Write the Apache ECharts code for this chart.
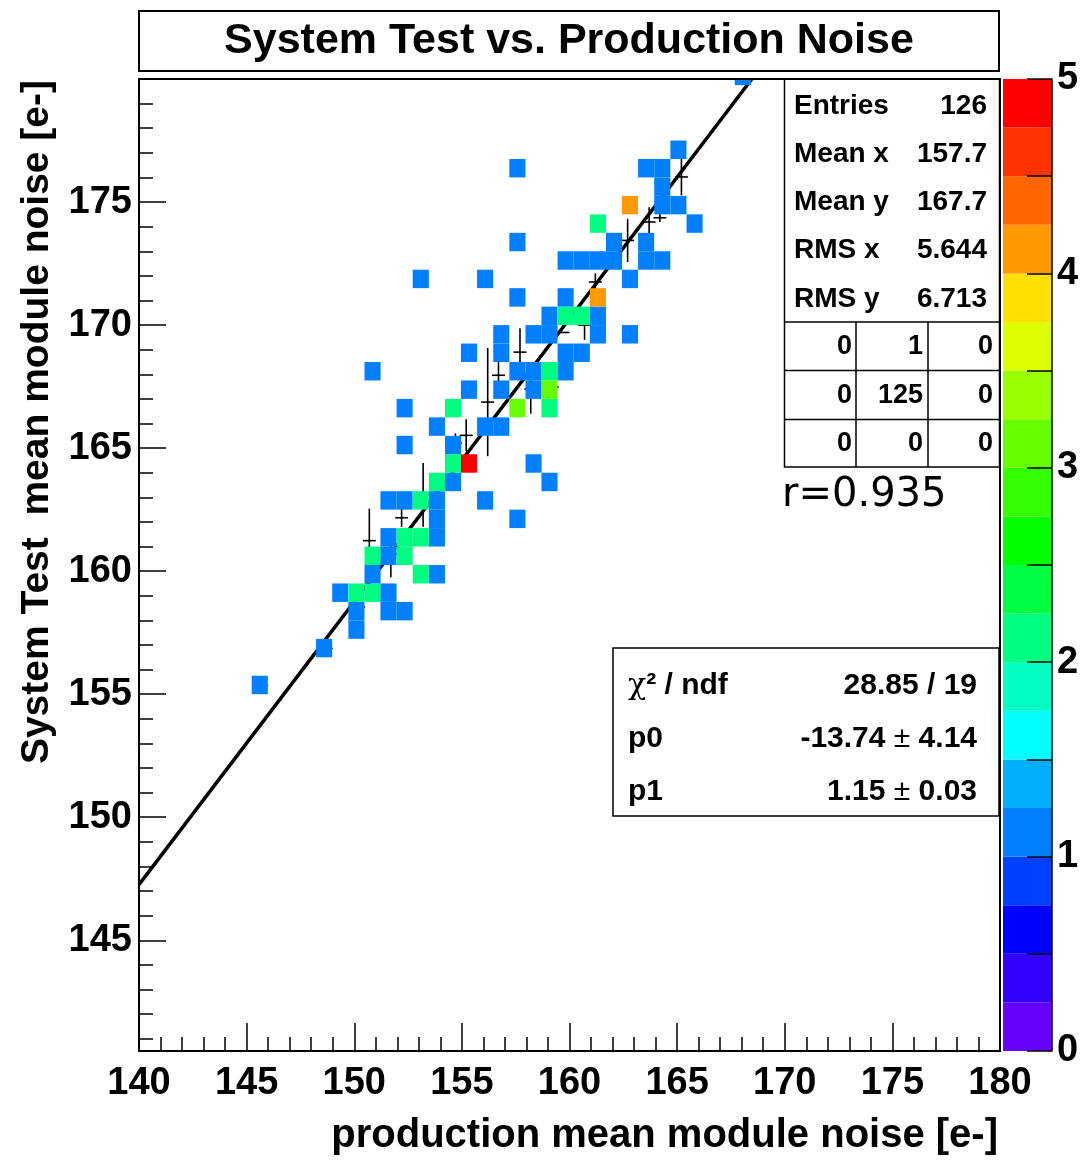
<!DOCTYPE html>
<html>
<head>
<meta charset="utf-8">
<script src="https://cdn.jsdelivr.net/npm/echarts@6/dist/echarts.min.js"></script>
<style>html,body{margin:0;padding:0;background:#fff}#c{width:1086px;height:1160px}</style>
</head>
<body>
<div id="c"></div>
<script>
// ---------------- data ----------------
const titleText = 'System Test vs. Production Noise';
const xTitle = 'production mean module noise [e-]';
const yTitle = 'System Test  mean module noise [e-]';
const xRange = [140, 180];
const yRange = [140.5, 180];
const binW = 0.748;
const binH = 0.75;

// 2D histogram cells: bin centres and counts
const cellX = [145.61,148.60,150.10,150.10,151.59,152.34,149.35,150.10,150.85,151.59,
  150.85,153.09,153.84,150.85,151.59,152.34,151.59,152.34,153.09,153.84,
  153.84,157.58,151.59,152.34,153.09,153.84,156.08,153.84,154.59,159.07,
  154.59,155.33,158.33,152.34,154.59,153.84,156.08,156.83,152.34,154.59,
  157.58,159.07,155.33,156.83,158.33,159.07,150.85,157.58,158.33,159.07,
  159.82,155.33,156.83,159.82,160.57,156.83,158.33,159.07,161.32,162.81,
  159.07,159.82,160.57,161.32,157.58,159.82,161.32,153.09,156.08,162.81,
  159.82,160.57,161.32,162.07,163.56,164.31,157.58,162.07,163.56,161.32,
  165.81,162.81,164.31,165.06,164.31,157.58,163.56,164.31,165.06,168.05];
const cellY = [155.375,156.875,157.625,158.375,158.375,158.375,159.125,159.125,159.125,159.125,
  159.875,159.875,159.875,160.625,160.625,160.625,161.375,161.375,161.375,161.375,
  162.125,162.125,162.875,162.875,162.875,162.875,162.875,163.625,163.625,163.625,
  164.375,164.375,164.375,165.125,165.125,165.875,165.875,165.875,166.625,166.625,
  166.625,166.625,167.375,167.375,167.375,167.375,168.125,168.125,168.125,168.125,
  168.125,168.875,168.875,168.875,168.875,169.625,169.625,169.625,169.625,169.625,
  170.375,170.375,170.375,170.375,171.125,171.125,171.125,171.875,171.875,171.875,
  172.625,172.625,172.625,172.625,172.625,172.625,173.375,173.375,173.375,174.125,
  174.125,174.875,174.875,174.875,175.625,176.375,176.375,176.375,177.125,180.125];
const cellN = [1,1,1,1,1,1,1,2,2,1,
  1,2,1,2,1,2,1,2,2,1,
  1,1,1,1,2,1,1,2,1,1,
  2,5,1,1,1,1,1,1,1,2,
  3,2,1,1,1,3,1,1,1,2,
  1,1,1,1,1,1,1,1,1,1,
  1,2,2,1,1,1,4,1,1,1,
  1,1,1,1,1,1,1,1,1,2,
  1,4,1,1,1,1,1,1,1,1];

// profile points (mean y per x slice) with errors
const profX = [145.7,148.7,150.2,150.7,151.7,152.2,153.2,154.7,155.2,156.2,156.7,157.7,158.2,159.2,159.7,160.7,161.2,162.7,163.7,164.2,165.2];
const profY = [155.35,156.86,158.54,161.24,160.7,162.17,163.1,165.2,165.52,166.87,167.96,168.9,167.4,167.48,169.7,170.0,171.75,173.44,174.19,174.36,176.02];
const profErr = [0,0,0,1.3,0.95,0.37,1.3,0.4,0.65,2.2,0.6,0.97,1.0,0,0,0.6,0.35,0.88,0.6,0.17,0.75];

// fitted straight line (end points)
const fitX = [140, 168.47];
const fitY = [147.26, 180];

// colour palette (20 contours, 0..5)
const paletteLevels = [0,0.25,0.5,0.75,1,1.25,1.5,1.75,2,2.25,2.5,2.75,3,3.25,3.5,3.75,4,4.25,4.5,4.75,5];
const paletteColors = ['#6600ff','#3300ff','#0000ff','#0040ff','#0080ff','#00b0ff','#00ffff','#00ffc0',
  '#00ff80','#00ff40','#00ff00','#33ff00','#66ff00','#99ff00','#ddff00','#ffe000',
  '#ff9900','#ff6600','#ff3300','#ff0000'];

// statistics box
const statsLabels = ['Entries','Mean x','Mean y','RMS x','RMS y'];
const statsValues = ['126','157.7','167.7','5.644','6.713'];
const overflowTable = [['0','1','0'],['0','125','0'],['0','0','0']];
const corrText = 'r=0.935';
const fitLabels = ['{c|χ}{b|² / ndf}','{b|p0}','{b|p1}'];
const fitValues = ['{b|28.85 / 19}','{b|-13.74 }{n|±}{b| 4.14}','{b|1.15 }{n|±}{b| 0.03}'];

// ---------------- drawing ----------------
const FONT = '"Liberation Sans", Arial, Helvetica, sans-serif';
const chart = echarts.init(document.getElementById('c'), null, {renderer: 'canvas'});

function colorFor(n) {
  let idx = 0;
  for (let i = 0; i < paletteColors.length; i++) if (n >= paletteLevels[i]) idx = i;
  return paletteColors[idx];
}

const cellData = cellX.map((x, i) => [x, cellY[i], cellN[i]]);
const profData = profX.map((x, i) => [x, profY[i], profErr[i]]);
const fitData = fitX.map((x, i) => [x, fitY[i]]);
const paletteData = paletteColors.map((c, i) => [paletteLevels[i], paletteLevels[i + 1], i]);

function text(x, y, str, size, opt) {
  opt = opt || {};
  return {
    type: 'text', x: x, y: y, z: opt.z || 60, rotation: opt.rotation || 0,
    style: {
      text: str, fill: '#000',
      fontSize: size, fontWeight: opt.weight || 'bold', fontFamily: opt.family || FONT,
      textAlign: opt.align || 'left', align: opt.align || 'left',
      textVerticalAlign: 'middle', verticalAlign: 'middle',
      rich: opt.rich
    }
  };
}

const graphics = [];
// title box
graphics.push({type: 'rect', z: 50, shape: {x: 139, y: 11, width: 860, height: 60},
  style: {fill: '#fff', stroke: '#000', lineWidth: 2}});
graphics.push(text(569, 41, titleText, 43, {align: 'center'}));
// plot frame
graphics.push({type: 'rect', z: 100, shape: {x: 139, y: 79, width: 861, height: 972},
  style: {fill: 'none', stroke: '#000', lineWidth: 2}});
// stats box
graphics.push({type: 'rect', z: 50, shape: {x: 784.5, y: 79, width: 215, height: 388},
  style: {fill: '#fff', stroke: '#000', lineWidth: 1.5}});
[322, 370.5, 419.5].forEach(y => graphics.push({type: 'line', z: 55,
  shape: {x1: 784.5, y1: y, x2: 999.5, y2: y}, style: {stroke: '#000', lineWidth: 1.5}}));
[856, 928].forEach(x => graphics.push({type: 'line', z: 55,
  shape: {x1: x, y1: 322, x2: x, y2: 467}, style: {stroke: '#000', lineWidth: 1.5}}));
statsLabels.forEach((s, i) => {
  graphics.push(text(794, 106 + i * 48.2, s, 28));
  graphics.push(text(987, 106 + i * 48.2, statsValues[i], 28, {align: 'right'}));
});
const colRight = [852, 923, 993];
overflowTable.forEach((row, r) => row.forEach((v, c) => {
  graphics.push(text(colRight[c], 347 + r * 48.5, v, 27, {align: 'right'}));
}));
graphics.push(text(782, 496, corrText, 40, {weight: 'normal', family: '"DejaVu Sans", sans-serif'}));
// fit box
graphics.push({type: 'rect', z: 50, shape: {x: 613, y: 648, width: 386, height: 168},
  style: {fill: '#fff', stroke: '#000', lineWidth: 1.5}});
const richFit = {
  b: {fontSize: 30, fontWeight: 'bold', fontFamily: FONT, fill: '#000'},
  n: {fontSize: 30, fontWeight: 'normal', fontFamily: FONT, fill: '#000'},
  c: {fontSize: 30, fontWeight: 'normal', fontFamily: '"DejaVu Serif", serif', fill: '#000'}
};
fitLabels.forEach((s, i) => {
  graphics.push(text(628, 686 + i * 53, s, 30, {rich: richFit}));
  graphics.push(text(977, 686 + i * 53, fitValues[i], 30, {align: 'right', rich: richFit}));
});
// axis titles
graphics.push(text(998, 1136, xTitle, 40, {align: 'right'}));
graphics.push(text(37, 80, yTitle, 39, {align: 'right', rotation: Math.PI / 2}));

const tickStyle = {color: '#000', width: 1.5};
const option = {
  animation: false,
  backgroundColor: '#fff',
  grid: [
    {left: 139, top: 79, width: 861, height: 972, show: false, containLabel: false, outerBoundsMode: 'none'},
    {left: 1003, top: 79, width: 49, height: 972, show: false, containLabel: false, outerBoundsMode: 'none'}
  ],
  xAxis: [
    {gridIndex: 0, type: 'value', min: xRange[0], max: xRange[1], interval: 5, z: 10,
      axisLine: {show: true, onZero: false, lineStyle: {color: '#000', width: 2}},
      axisTick: {show: true, inside: true, length: 28, lineStyle: tickStyle},
      minorTick: {show: true, splitNumber: 5, length: 14, lineStyle: tickStyle},
      splitLine: {show: false}, minorSplitLine: {show: false},
      axisLabel: {show: true, color: '#000', fontSize: 38, fontWeight: 'bold', fontFamily: FONT, margin: 14,
        showMinLabel: true, showMaxLabel: true, hideOverlap: false}},
    {gridIndex: 1, type: 'value', min: 0, max: 1, show: false, axisLine: {onZero: false}}
  ],
  yAxis: [
    {gridIndex: 0, type: 'value', position: 'left', min: yRange[0], max: yRange[1], splitNumber: 8, z: 10,
      axisLine: {show: true, onZero: false, lineStyle: {color: '#000', width: 2}},
      axisTick: {show: true, inside: true, length: 27, lineStyle: tickStyle},
      splitLine: {show: false},
      axisLabel: {show: true, color: '#000', fontSize: 38, fontWeight: 'bold', fontFamily: FONT, margin: 7,
        padding: [6, 0, 0, 0],
        showMinLabel: true, showMaxLabel: true, hideOverlap: false,
        formatter: v => (Math.abs(v % 5) < 1e-6 && v < 179.9) ? String(Math.round(v)) : ''}},
    {gridIndex: 0, type: 'value', position: 'left', offset: 0, min: yRange[0], max: yRange[1], splitNumber: 40, z: 10,
      axisLine: {show: false, onZero: false},
      axisTick: {show: true, inside: true, length: 14, lineStyle: tickStyle},
      splitLine: {show: false}, axisLabel: {show: false}},
    {gridIndex: 1, type: 'value', position: 'right', min: 0, max: 5, interval: 0.5, z: 10,
      axisLine: {show: true, onZero: false, lineStyle: {color: '#000', width: 1.5}},
      axisTick: {show: true, inside: true, length: 25, lineStyle: tickStyle},
      splitLine: {show: false},
      axisLabel: {show: true, color: '#000', fontSize: 38, fontWeight: 'bold', fontFamily: FONT, margin: 5,
        padding: [8, 0, 0, 0],
        showMinLabel: true, showMaxLabel: true, hideOverlap: false,
        formatter: v => (Math.abs(v - Math.round(v)) < 1e-6) ? String(Math.round(v)) : ''}}
  ],
  series: [
    {type: 'custom', name: 'profile', xAxisIndex: 0, yAxisIndex: 0, z: 1, data: profData,
      renderItem: function (params, api) {
        const x = api.value(0), y = api.value(1), e = api.value(2);
        const l = api.coord([x - 0.3, y]), r = api.coord([x + 0.3, y]);
        const children = [{type: 'line', shape: {x1: l[0], y1: l[1], x2: r[0], y2: r[1]},
          style: {stroke: '#000', lineWidth: 1.6}}];
        if (e > 0) {
          const t = api.coord([x, y + e]), b = api.coord([x, y - e]);
          children.push({type: 'line', shape: {x1: t[0], y1: t[1], x2: b[0], y2: b[1]},
            style: {stroke: '#000', lineWidth: 1.6}});
        }
        return {type: 'group', children: children};
      }},
    {type: 'line', name: 'fit', xAxisIndex: 0, yAxisIndex: 0, z: 1, data: fitData, symbol: 'none', clip: true,
      lineStyle: {color: '#000', width: 3.5}},
    {type: 'custom', name: 'cells', xAxisIndex: 0, yAxisIndex: 0, z: 3, data: cellData,
      renderItem: function (params, api) {
        const x = api.value(0), y = api.value(1), n = api.value(2);
        const p0 = api.coord([x - binW / 2, y + binH / 2]);
        const p1 = api.coord([x + binW / 2, y - binH / 2]);
        const cs = params.coordSys;
        const shape = echarts.graphic.clipRectByRect(
          {x: p0[0], y: p0[1], width: p1[0] - p0[0], height: p1[1] - p0[1]},
          {x: cs.x, y: cs.y, width: cs.width, height: cs.height});
        if (!shape) return null;
        return {type: 'rect', shape: shape, style: {fill: colorFor(n)}};
      }},
    {type: 'custom', name: 'palette', xAxisIndex: 1, yAxisIndex: 2, z: 3, data: paletteData,
      renderItem: function (params, api) {
        const lo = api.value(0), hi = api.value(1), idx = api.value(2);
        const p0 = api.coord([0, hi]), p1 = api.coord([1, lo]);
        return {type: 'rect', shape: {x: p0[0], y: p0[1], width: p1[0] - p0[0], height: p1[1] - p0[1]},
          style: {fill: paletteColors[idx]}};
      }}
  ],
  graphic: graphics
};
chart.setOption(option);
</script>
</body>
</html>
